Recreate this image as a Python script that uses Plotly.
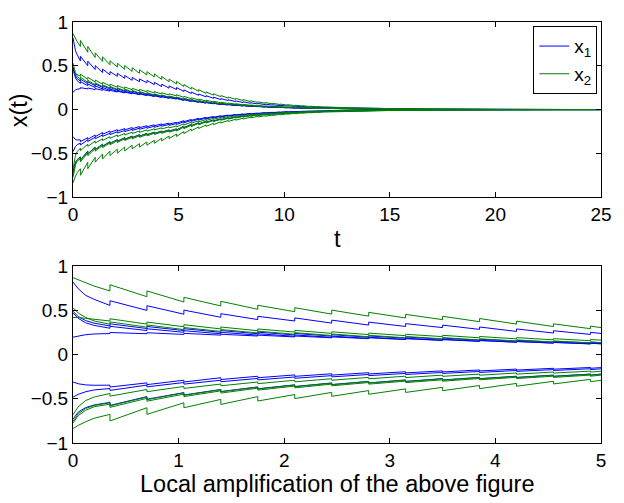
import plotly.graph_objects as go

# ---------------- time grid ----------------
T_HEAD = [0.0, 0.05, 0.12, 0.2]
T_IMPULSE = [0.35, 0.70, 1.05, 1.40, 1.75, 2.10, 2.45, 2.80, 3.15, 3.50, 3.85, 4.20, 4.55, 4.90,
             5.25, 5.60, 5.95, 6.30, 6.65, 7.00, 7.35, 7.70, 8.05, 8.40, 8.75, 9.10, 9.45, 9.80,
             10.15, 10.50, 10.85, 11.20, 11.55, 11.90]
T_TAIL = [12.5, 13.5, 15.0, 17.0, 20.0, 25.0]

# ---------------- x_1 (blue) curves ----------------
X1_A_HEAD = [0.82, 0.745, 0.67, 0.625]
X1_A_PRE = [0.556, 0.50, 0.457, 0.422, 0.396, 0.38, 0.356, 0.334, 0.318, 0.305, 0.285, 0.262, 0.244, 0.228,
            0.206, 0.183, 0.163, 0.145, 0.129, 0.115, 0.103, 0.091, 0.081, 0.072, 0.064, 0.057, 0.051, 0.045,
            0.04, 0.036, 0.032, 0.028, 0.025, 0.023]
X1_A_POST = [0.609, 0.553, 0.503, 0.463, 0.433, 0.415, 0.39, 0.367, 0.35, 0.333, 0.312, 0.29, 0.27, 0.252,
             0.225, 0.2, 0.178, 0.158, 0.141, 0.125, 0.112, 0.099, 0.088, 0.078, 0.07, 0.062, 0.055, 0.049,
             0.044, 0.039, 0.035, 0.03, 0.027, 0.024]
X1_A_TAIL = [0.02, 0.014, 0.0086, 0.0039, 0.0013, 0.0]

X1_B_HEAD = [0.49, 0.43, 0.385, 0.355]
X1_B_PRE = [0.324, 0.295, 0.272, 0.252, 0.236, 0.222, 0.209, 0.196, 0.185, 0.174, 0.162, 0.151, 0.14, 0.131,
            0.115, 0.103, 0.091, 0.081, 0.072, 0.064, 0.057, 0.051, 0.046, 0.04, 0.036, 0.032, 0.028, 0.025,
            0.022, 0.02, 0.018, 0.016, 0.014, 0.013]
X1_B_POST = [0.348, 0.318, 0.293, 0.272, 0.254, 0.239, 0.225, 0.211, 0.199, 0.187, 0.174, 0.162, 0.151, 0.141,
             0.126, 0.112, 0.099, 0.088, 0.079, 0.07, 0.063, 0.056, 0.049, 0.044, 0.039, 0.035, 0.031, 0.028,
             0.025, 0.022, 0.019, 0.017, 0.015, 0.014]
X1_B_TAIL = [0.011, 0.0079, 0.0048, 0.0022, 0.0007, 0.0]

X1_C_HEAD = [0.47, 0.41, 0.36, 0.33]
X1_C_PRE = [0.298, 0.272, 0.252, 0.235, 0.22, 0.207, 0.195, 0.183, 0.172, 0.162, 0.151, 0.14, 0.13, 0.121,
            0.106, 0.095, 0.084, 0.075, 0.067, 0.059, 0.053, 0.047, 0.042, 0.037, 0.033, 0.03, 0.026, 0.023,
            0.021, 0.019, 0.017, 0.015, 0.013, 0.012]
X1_C_POST = [0.32, 0.292, 0.27, 0.252, 0.236, 0.222, 0.209, 0.196, 0.185, 0.174, 0.162, 0.15, 0.14, 0.13,
             0.116, 0.103, 0.092, 0.082, 0.073, 0.065, 0.058, 0.051, 0.046, 0.04, 0.036, 0.032, 0.029, 0.025,
             0.023, 0.02, 0.018, 0.016, 0.014, 0.012]
X1_C_TAIL = [0.01, 0.0073, 0.0044, 0.002, 0.0007, 0.0]

X1_D_HEAD = [0.197, 0.21, 0.225, 0.233]
X1_D_PRE = [0.238, 0.236, 0.228, 0.22, 0.21, 0.2, 0.19, 0.18, 0.17, 0.16, 0.15, 0.14, 0.13, 0.121,
            0.105, 0.093, 0.083, 0.074, 0.066, 0.058, 0.052, 0.046, 0.041, 0.037, 0.033, 0.029, 0.026, 0.023,
            0.02, 0.018, 0.016, 0.014, 0.013, 0.012]
X1_D_POST = [0.25, 0.247, 0.24, 0.23, 0.22, 0.21, 0.2, 0.19, 0.179, 0.169, 0.158, 0.147, 0.137, 0.128,
             0.114, 0.101, 0.09, 0.08, 0.072, 0.064, 0.057, 0.05, 0.045, 0.04, 0.035, 0.032, 0.028, 0.025,
             0.022, 0.02, 0.018, 0.015, 0.014, 0.012]
X1_D_TAIL = [0.01, 0.0072, 0.0044, 0.002, 0.0006, 0.0]

X1_E_HEAD = [-0.31, -0.33, -0.343, -0.347]
X1_E_PRE = [-0.346, -0.32, -0.29, -0.262, -0.245, -0.23, -0.217, -0.205, -0.194, -0.184, -0.174, -0.164, -0.155, -0.146,
            -0.127, -0.113, -0.1, -0.089, -0.079, -0.071, -0.063, -0.056, -0.05, -0.044, -0.04, -0.035, -0.031, -0.028,
            -0.024, -0.022, -0.02, -0.017, -0.015, -0.014]
X1_E_POST = [-0.367, -0.34, -0.31, -0.282, -0.262, -0.246, -0.232, -0.219, -0.207, -0.196, -0.185, -0.175, -0.165, -0.155,
             -0.138, -0.123, -0.109, -0.097, -0.087, -0.077, -0.069, -0.061, -0.054, -0.048, -0.043, -0.038, -0.034, -0.03,
             -0.027, -0.024, -0.021, -0.019, -0.017, -0.015]
X1_E_TAIL = [-0.012, -0.0087, -0.0053, -0.0024, -0.0008, 0.0]

X1_F_HEAD = [-0.48, -0.45, -0.42, -0.40]
X1_F_PRE = [-0.384, -0.345, -0.316, -0.29, -0.27, -0.253, -0.238, -0.225, -0.213, -0.202, -0.191, -0.18, -0.17, -0.16,
            -0.139, -0.124, -0.11, -0.098, -0.087, -0.078, -0.069, -0.062, -0.055, -0.049, -0.043, -0.039, -0.034, -0.031,
            -0.027, -0.024, -0.022, -0.019, -0.017, -0.015]
X1_F_POST = [-0.405, -0.365, -0.334, -0.307, -0.286, -0.268, -0.252, -0.238, -0.225, -0.213, -0.202, -0.19, -0.18, -0.17,
             -0.151, -0.135, -0.12, -0.107, -0.095, -0.084, -0.075, -0.067, -0.06, -0.053, -0.047, -0.042, -0.037, -0.033,
             -0.03, -0.026, -0.023, -0.021, -0.019, -0.016]
X1_F_TAIL = [-0.013, -0.0095, -0.0058, -0.0026, -0.0009, 0.0]

X1_G_HEAD = [-0.73, -0.65, -0.6, -0.57]
X1_G_PRE = [-0.54, -0.475, -0.43, -0.395, -0.366, -0.342, -0.321, -0.303, -0.287, -0.272, -0.258, -0.245, -0.232, -0.22,
            -0.19, -0.169, -0.15, -0.133, -0.119, -0.106, -0.094, -0.084, -0.075, -0.066, -0.059, -0.053, -0.047, -0.042,
            -0.037, -0.033, -0.029, -0.026, -0.023, -0.021]
X1_G_POST = [-0.575, -0.505, -0.457, -0.418, -0.387, -0.361, -0.339, -0.32, -0.303, -0.287, -0.272, -0.258, -0.245, -0.232,
             -0.207, -0.184, -0.164, -0.145, -0.13, -0.115, -0.103, -0.091, -0.081, -0.072, -0.064, -0.058, -0.051, -0.045,
             -0.04, -0.036, -0.032, -0.028, -0.025, -0.022]
X1_G_TAIL = [-0.018, -0.013, -0.0079, -0.0036, -0.0012, 0.0]

# ---------------- x_2 (green) curves ----------------
X2_A_HEAD = [0.87, 0.845, 0.81, 0.775]
X2_A_PRE = [0.72, 0.655, 0.595, 0.55, 0.512, 0.485, 0.458, 0.435, 0.414, 0.395, 0.372, 0.345, 0.317, 0.293,
            0.263, 0.234, 0.208, 0.185, 0.165, 0.147, 0.131, 0.117, 0.104, 0.092, 0.082, 0.073, 0.065, 0.058,
            0.051, 0.046, 0.041, 0.036, 0.032, 0.029]
X2_A_POST = [0.79, 0.72, 0.648, 0.603, 0.558, 0.53, 0.503, 0.478, 0.455, 0.433, 0.408, 0.378, 0.348, 0.322,
             0.287, 0.255, 0.227, 0.202, 0.18, 0.16, 0.143, 0.127, 0.113, 0.1, 0.089, 0.08, 0.071, 0.063,
             0.056, 0.05, 0.044, 0.039, 0.035, 0.031]
X2_A_TAIL = [0.025, 0.018, 0.011, 0.005, 0.0016, 0.0]

X2_B_HEAD = [0.53, 0.47, 0.42, 0.38]
X2_B_PRE = [0.343, 0.31, 0.283, 0.262, 0.245, 0.23, 0.216, 0.202, 0.19, 0.178, 0.166, 0.154, 0.143, 0.133,
            0.117, 0.104, 0.092, 0.082, 0.073, 0.065, 0.058, 0.052, 0.046, 0.041, 0.036, 0.032, 0.029, 0.026,
            0.023, 0.02, 0.018, 0.016, 0.014, 0.013]
X2_B_POST = [0.37, 0.335, 0.306, 0.283, 0.265, 0.248, 0.233, 0.218, 0.205, 0.192, 0.179, 0.166, 0.154, 0.143,
             0.127, 0.113, 0.101, 0.09, 0.08, 0.071, 0.063, 0.056, 0.05, 0.044, 0.039, 0.035, 0.031, 0.028,
             0.025, 0.022, 0.02, 0.017, 0.016, 0.014]
X2_B_TAIL = [0.011, 0.008, 0.0049, 0.0022, 0.0007, 0.0]

X2_C_HEAD = [0.42, 0.42, 0.41, 0.40]
X2_C_PRE = [0.38, 0.345, 0.315, 0.29, 0.27, 0.255, 0.24, 0.226, 0.214, 0.203, 0.19, 0.178, 0.167, 0.157,
            0.139, 0.124, 0.11, 0.098, 0.087, 0.078, 0.069, 0.062, 0.055, 0.049, 0.043, 0.039, 0.034, 0.031,
            0.027, 0.024, 0.022, 0.019, 0.017, 0.015]
X2_C_POST = [0.405, 0.368, 0.338, 0.312, 0.29, 0.274, 0.258, 0.243, 0.23, 0.218, 0.205, 0.192, 0.18, 0.17,
             0.151, 0.135, 0.12, 0.107, 0.095, 0.084, 0.075, 0.067, 0.06, 0.053, 0.047, 0.042, 0.037, 0.033,
             0.03, 0.026, 0.023, 0.021, 0.019, 0.016]
X2_C_TAIL = [0.013, 0.0095, 0.0058, 0.0026, 0.0009, 0.0]

X2_D_HEAD = [-0.68, -0.59, -0.52, -0.48]
X2_D_PRE = [-0.44, -0.395, -0.36, -0.333, -0.31, -0.29, -0.273, -0.258, -0.244, -0.232, -0.22, -0.208, -0.197, -0.187,
            -0.162, -0.144, -0.128, -0.114, -0.101, -0.09, -0.081, -0.072, -0.064, -0.057, -0.05, -0.045, -0.04, -0.036,
            -0.031, -0.028, -0.025, -0.022, -0.02, -0.018]
X2_D_POST = [-0.47, -0.42, -0.383, -0.353, -0.329, -0.308, -0.29, -0.274, -0.26, -0.246, -0.233, -0.221, -0.209, -0.198,
             -0.176, -0.157, -0.14, -0.124, -0.111, -0.098, -0.088, -0.078, -0.069, -0.062, -0.055, -0.049, -0.044, -0.039,
             -0.034, -0.031, -0.027, -0.024, -0.022, -0.019]
X2_D_TAIL = [-0.015, -0.011, -0.0067, -0.0031, -0.001, 0.0]

X2_E_HEAD = [-0.755, -0.67, -0.61, -0.575]
X2_E_PRE = [-0.545, -0.48, -0.433, -0.397, -0.368, -0.344, -0.323, -0.305, -0.289, -0.274, -0.26, -0.247, -0.234, -0.222,
            -0.191, -0.17, -0.151, -0.135, -0.12, -0.107, -0.095, -0.085, -0.076, -0.067, -0.06, -0.053, -0.047, -0.042,
            -0.037, -0.033, -0.03, -0.026, -0.023, -0.021]
X2_E_POST = [-0.58, -0.51, -0.46, -0.42, -0.389, -0.363, -0.341, -0.322, -0.305, -0.289, -0.274, -0.26, -0.247, -0.234,
             -0.208, -0.185, -0.165, -0.147, -0.131, -0.116, -0.104, -0.092, -0.082, -0.073, -0.065, -0.058, -0.051, -0.046,
             -0.041, -0.036, -0.032, -0.028, -0.026, -0.022]
X2_E_TAIL = [-0.018, -0.013, -0.008, -0.0036, -0.0012, 0.0]

X2_F_HEAD = [-0.775, -0.69, -0.63, -0.59]
X2_F_PRE = [-0.56, -0.495, -0.447, -0.41, -0.38, -0.356, -0.334, -0.316, -0.3, -0.285, -0.27, -0.257, -0.244, -0.232,
            -0.2, -0.178, -0.158, -0.141, -0.125, -0.112, -0.1, -0.089, -0.079, -0.07, -0.062, -0.056, -0.049, -0.044,
            -0.039, -0.035, -0.031, -0.027, -0.024, -0.022]
X2_F_POST = [-0.597, -0.527, -0.475, -0.435, -0.402, -0.376, -0.353, -0.334, -0.317, -0.301, -0.285, -0.271, -0.258, -0.245,
             -0.218, -0.194, -0.173, -0.154, -0.137, -0.122, -0.109, -0.097, -0.086, -0.076, -0.068, -0.061, -0.054, -0.048,
             -0.043, -0.038, -0.034, -0.03, -0.027, -0.024]
X2_F_TAIL = [-0.019, -0.014, -0.0083, -0.0038, -0.0012, 0.0]

X2_G_HEAD = [-0.837, -0.80, -0.76, -0.72]
X2_G_PRE = [-0.676, -0.601, -0.545, -0.507, -0.475, -0.452, -0.428, -0.407, -0.388, -0.37, -0.35, -0.326, -0.302, -0.28,
            -0.251, -0.223, -0.198, -0.177, -0.157, -0.14, -0.125, -0.111, -0.099, -0.088, -0.078, -0.07, -0.062, -0.055,
            -0.049, -0.044, -0.039, -0.034, -0.03, -0.028]
X2_G_POST = [-0.751, -0.676, -0.601, -0.564, -0.525, -0.498, -0.472, -0.449, -0.428, -0.408, -0.385, -0.358, -0.332, -0.307,
             -0.274, -0.243, -0.216, -0.192, -0.172, -0.153, -0.136, -0.121, -0.108, -0.095, -0.085, -0.076, -0.068, -0.06,
             -0.053, -0.048, -0.042, -0.037, -0.033, -0.029]
X2_G_TAIL = [-0.024, -0.017, -0.0104, -0.0048, -0.0015, 0.0]

BLUE_CURVES = [
    (X1_A_HEAD, X1_A_PRE, X1_A_POST, X1_A_TAIL),
    (X1_B_HEAD, X1_B_PRE, X1_B_POST, X1_B_TAIL),
    (X1_C_HEAD, X1_C_PRE, X1_C_POST, X1_C_TAIL),
    (X1_D_HEAD, X1_D_PRE, X1_D_POST, X1_D_TAIL),
    (X1_E_HEAD, X1_E_PRE, X1_E_POST, X1_E_TAIL),
    (X1_F_HEAD, X1_F_PRE, X1_F_POST, X1_F_TAIL),
    (X1_G_HEAD, X1_G_PRE, X1_G_POST, X1_G_TAIL),
]
GREEN_CURVES = [
    (X2_A_HEAD, X2_A_PRE, X2_A_POST, X2_A_TAIL),
    (X2_B_HEAD, X2_B_PRE, X2_B_POST, X2_B_TAIL),
    (X2_C_HEAD, X2_C_PRE, X2_C_POST, X2_C_TAIL),
    (X2_D_HEAD, X2_D_PRE, X2_D_POST, X2_D_TAIL),
    (X2_E_HEAD, X2_E_PRE, X2_E_POST, X2_E_TAIL),
    (X2_F_HEAD, X2_F_PRE, X2_F_POST, X2_F_TAIL),
    (X2_G_HEAD, X2_G_PRE, X2_G_POST, X2_G_TAIL),
]

BLUE = "#0000ff"
GREEN = "#008000"
FONT = "Liberation Sans, Arial, Helvetica, sans-serif"
TICK_SIZE = 19
LABEL_SIZE = 23.5


def build(head, pre, post, tail):
    xs = list(T_HEAD)
    ys = list(head)
    for t, a, b in zip(T_IMPULSE, pre, post):
        xs += [t, t]
        ys += [a, b]
    xs += list(T_TAIL)
    ys += list(tail)
    return xs, ys


fig = go.Figure()
for curves, color, name in [(BLUE_CURVES, BLUE, "x<sub>1</sub>"), (GREEN_CURVES, GREEN, "x<sub>2</sub>")]:
    for i, c in enumerate(curves):
        xs, ys = build(*c)
        fig.add_trace(go.Scatter(x=xs, y=ys, mode="lines", line=dict(color=color, width=1),
                                 name=name, legendgroup=name, showlegend=(i == 0),
                                 xaxis="x", yaxis="y"))
        fig.add_trace(go.Scatter(x=xs, y=ys, mode="lines", line=dict(color=color, width=1),
                                 name=name, legendgroup=name, showlegend=False,
                                 xaxis="x2", yaxis="y2"))

axis_common = dict(showline=True, linecolor="black", linewidth=1, mirror="ticks",
                   ticks="inside", ticklen=5, tickcolor="black", showgrid=False,
                   zeroline=False, tickfont=dict(family=FONT, size=TICK_SIZE, color="black"))

fig.update_layout(
    width=624, height=503,
    margin=dict(l=73, r=12, t=18, b=60),
    paper_bgcolor="white", plot_bgcolor="white",
    font=dict(family=FONT, color="black"),
    xaxis=dict(domain=[0, 1], range=[0, 25], tick0=0, dtick=5, anchor="y", **axis_common),
    yaxis=dict(domain=[0.584, 1.0], range=[-1, 1], tick0=0, dtick=0.5, anchor="x", **axis_common),
    xaxis2=dict(domain=[0, 1], range=[0, 5], tick0=0, dtick=1, anchor="y2", **axis_common),
    yaxis2=dict(domain=[0.0, 0.42], range=[-1, 1], tick0=0, dtick=0.5, anchor="x2", **axis_common),
    legend=dict(x=0.993, y=0.99, xanchor="right", yanchor="top", bgcolor="white",
                bordercolor="black", borderwidth=1, font=dict(family=FONT, size=TICK_SIZE, color="black"),
                tracegroupgap=0),
    showlegend=True,
    annotations=[
        dict(text="x(t)", xref="paper", yref="paper", x=-0.102, y=0.7906, textangle=-90,
             xanchor="center", yanchor="middle",
             showarrow=False, font=dict(family=FONT, size=LABEL_SIZE, color="black")),
        dict(text="t", xref="paper", yref="paper", x=0.5, y=0.4847, xanchor="center", yanchor="middle",
             showarrow=False, font=dict(family=FONT, size=LABEL_SIZE, color="black")),
        dict(text="Local amplification of the above figure", xref="paper", yref="paper",
             x=0.5, y=-0.0965, xanchor="center", yanchor="middle", showarrow=False,
             font=dict(family=FONT, size=LABEL_SIZE, color="black")),
    ],
)

fig.write_html("out.html")
